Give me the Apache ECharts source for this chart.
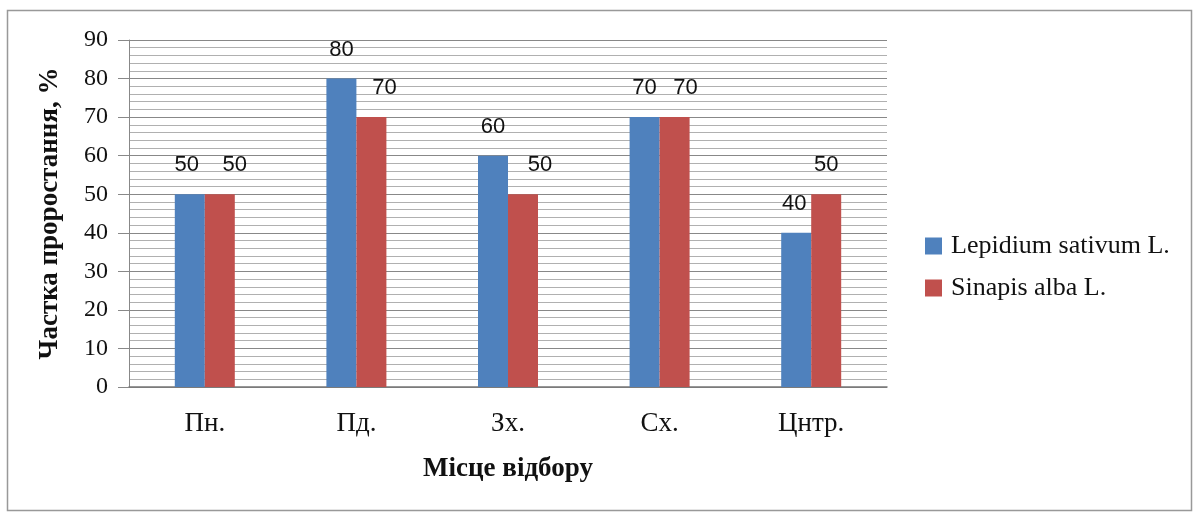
<!DOCTYPE html>
<html><head><meta charset="utf-8">
<script src="https://cdn.jsdelivr.net/npm/echarts@6/dist/echarts.min.js"></script>
<style>html,body{margin:0;padding:0;background:#fff}#c{width:1199px;height:513px}</style>
</head><body><div id="c"></div>
<script>
const categories = ['Пн.', 'Пд.', 'Зх.', 'Сх.', 'Цнтр.'];
const lepidium = [50, 80, 60, 70, 40];
const sinapis = [50, 70, 50, 70, 50];
const seriesNames = ['Lepidium sativum L.', 'Sinapis alba L.'];
const yTicks = [0, 10, 20, 30, 40, 50, 60, 70, 80, 90];

const chart = echarts.init(document.getElementById('c'));
const serif = '"Liberation Serif", "Times New Roman", serif';
const sans = '"Liberation Sans", Arial, sans-serif';
const baseLabel = {show: true, position: 'top', distance: 18, color: '#111', fontFamily: sans, fontSize: 22};
// label horizontal nudges as in the reference layout
const blueOffsets = [-3, 0, 0, 0, -2];
const redOffsets = [15, 13, 17, 11, 0];
const blueData = lepidium.map((v, i) => ({value: v, label: {offset: [blueOffsets[i], 0]}}));
const redData = sinapis.map((v, i) => ({value: v, label: {offset: [redOffsets[i], 0]}}));
chart.setOption({
  animation: false,
  graphic: [{type: 'rect', shape: {x: 7.5, y: 10.5, width: 1184, height: 500}, style: {fill: 'none', stroke: '#999', lineWidth: 1.5}, z: -1}],
  grid: {left: 129, right: 312, top: 40, bottom: 126},
  legend: {
    orient: 'vertical', left: 920, top: 228, itemWidth: 17, itemHeight: 17, itemGap: 16,
    icon: 'rect', textStyle: {fontFamily: serif, fontSize: 26, color: '#111', padding: [0, 0, 0, 4]},
    data: seriesNames
  },
  xAxis: {
    type: 'category', data: categories,
    name: 'Місце відбору', nameLocation: 'middle', nameGap: 69,
    nameTextStyle: {fontFamily: serif, fontSize: 27, fontWeight: 'bold', color: '#111'},
    axisLine: {lineStyle: {color: '#777', width: 1.5}},
    axisTick: {show: false},
    axisLabel: {fontFamily: serif, fontSize: 27, color: '#111', margin: 23}
  },
  yAxis: {
    type: 'value', min: yTicks[0], max: yTicks[yTicks.length - 1], interval: 10,
    name: 'Частка проростання, %', nameLocation: 'middle', nameGap: 65,
    nameTextStyle: {fontFamily: serif, fontSize: 27, fontWeight: 'bold', color: '#111'},
    axisLine: {show: true, lineStyle: {color: '#888'}},
    axisTick: {show: true, length: 11, lineStyle: {color: '#888'}},
    axisLabel: {fontFamily: serif, fontSize: 24, color: '#111', margin: 21},
    splitLine: {lineStyle: {color: '#888', width: 1}},
    minorTick: {show: false, splitNumber: 5},
    minorSplitLine: {show: true, lineStyle: {color: '#b0b0b0', width: 1}}
  },
  series: [
    {name: seriesNames[0], type: 'bar', data: blueData, barWidth: 30, barGap: '0%',
     itemStyle: {color: '#4F81BD'}, label: baseLabel},
    {name: seriesNames[1], type: 'bar', data: redData, barWidth: 30,
     itemStyle: {color: '#C0504D'}, label: baseLabel}
  ]
});
</script></body></html>
